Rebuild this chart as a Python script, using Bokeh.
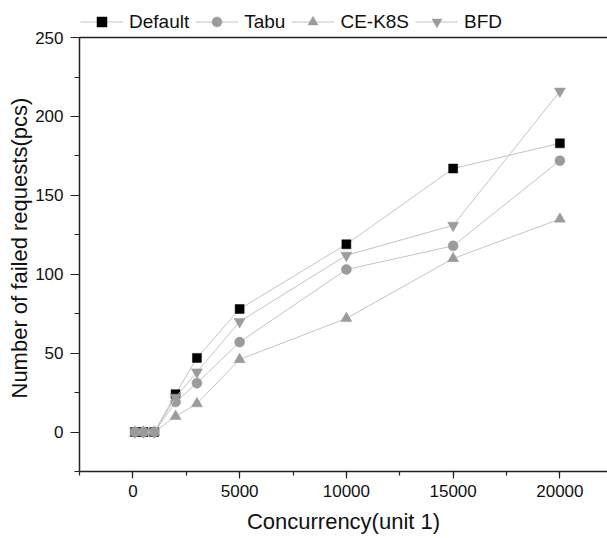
from bokeh.plotting import figure
from bokeh.models import (Range1d, SingleIntervalTicker, Legend, LegendItem, Span, Title)
from bokeh.embed import file_html
from bokeh.resources import INLINE

# ---- data ----
concurrency = [100, 500, 1000, 2000, 3000, 5000, 10000, 15000, 20000]
default_vals = [0, 0, 0, 24, 47, 78, 119, 167, 183]
tabu_vals = [0, 0, 0, 19, 31, 57, 103, 118, 172]
ce_k8s_vals = [0, 0, 0, 10, 18, 46, 72, 110, 135]
bfd_vals = [0, 0, 0, 22, 38, 70, 112, 131, 216]
series_names = ["Default", "Tabu", "CE-K8S", "BFD"]
x_title = "Concurrency(unit 1)"
y_title = "Number of failed requests(pcs)"

FONT = "Liberation Sans"
LINE = "#c4c4c4"
GREY = "#9b9b9b"

p = figure(width=607, height=538, output_backend="svg", toolbar_location=None,
           x_range=Range1d(-2500, 22230), y_range=Range1d(-25, 273.5),
           min_border_left=79, min_border_right=0, min_border_top=0,
           min_border_bottom=67)
p.outline_line_color = None
p.xgrid.visible = False
p.ygrid.visible = False

series = [
    (series_names[0], default_vals, "square", "black", 9),
    (series_names[1], tabu_vals, "circle", GREY, 10),
    (series_names[2], ce_k8s_vals, "triangle", GREY, 11),
    (series_names[3], bfd_vals, "inverted_triangle", GREY, 11),
]
items = []
for name, vals, marker, color, size in series:
    l = p.line(concurrency, vals, line_color=LINE, line_width=1)
    s = p.scatter(concurrency, vals, marker=marker, size=size,
                  fill_color=color, line_color=color, line_width=0.5)
    items.append(LegendItem(label=name, renderers=[l, s]))

for ax in (p.xaxis[0], p.yaxis[0]):
    ax.axis_line_color = "#222222"
    ax.axis_line_width = 1.5
    ax.major_tick_line_color = "#222222"
    ax.minor_tick_line_color = "#222222"
    ax.major_tick_line_width = 1.2
    ax.minor_tick_line_width = 1.2
    ax.major_tick_in = 0
    ax.minor_tick_in = 0
    ax.major_label_text_font = FONT
    ax.major_label_text_font_size = "17px"
    ax.major_label_text_color = "#111111"
    ax.axis_label_text_font = FONT
    ax.axis_label_text_font_size = "22px"
    ax.axis_label_text_font_style = "normal"
    ax.axis_label_text_color = "#111111"

p.xaxis[0].ticker = SingleIntervalTicker(interval=5000, num_minor_ticks=2)
p.xaxis[0].major_tick_out = 7
p.xaxis[0].minor_tick_out = 4
p.xaxis[0].major_label_standoff = 6
p.xaxis[0].axis_label = x_title
p.xaxis[0].axis_label_standoff = 9

p.yaxis[0].ticker = SingleIntervalTicker(interval=50, num_minor_ticks=2)
p.yaxis[0].bounds = (-25, 250)
p.yaxis[0].major_tick_out = 9
p.yaxis[0].minor_tick_out = 5
p.yaxis[0].major_label_standoff = 7

ytitle = Title(text=y_title, align="left", offset=73, standoff=2,
               text_font=FONT, text_font_size="22px", text_font_style="normal",
               text_color="#111111")
p.add_layout(ytitle, "left")

p.add_layout(Span(location=250, dimension="width", line_color="#222222",
                  line_width=1.5))

legend = Legend(items=items, orientation="horizontal", location=(1, 437),
                glyph_width=43, glyph_height=25, label_height=25,
                label_standoff=6, spacing=6, padding=0, margin=0,
                border_line_color=None, background_fill_alpha=0,
                label_text_font=FONT, label_text_font_size="19px",
                label_text_color="#111111")
p.add_layout(legend, "center")

open("out.html", "w").write(file_html(p, INLINE))
